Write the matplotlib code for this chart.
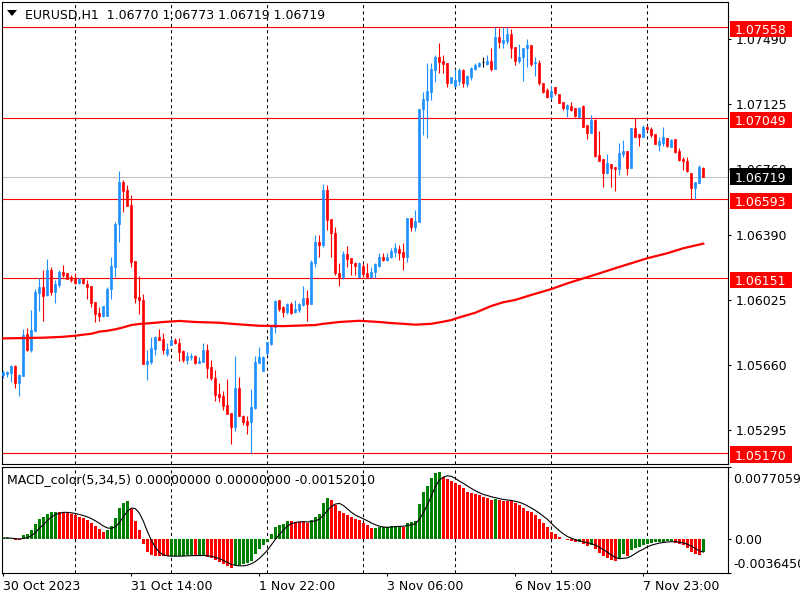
import numpy as np
import pandas as pd
import matplotlib
matplotlib.use('Agg')
import matplotlib.pyplot as plt
from matplotlib.patches import Rectangle, Polygon
from matplotlib.transforms import IdentityTransform

plt.rcParams['font.family'] = ['DejaVu Sans']
plt.rcParams['font.size'] = 9

# EURUSD H1, one bar per hour starting 30 Oct 2023 06:00
open_p = [
    1.05605, 1.05613, 1.05618, 1.05656, 1.05562, 1.05600, 1.05836, 1.05746, 1.05852, 1.06068,
    1.06101, 1.06055, 1.06195, 1.06073, 1.06111, 1.06185, 1.06176, 1.06154, 1.06148, 1.06120,
    1.06145, 1.06116, 1.06105, 1.06014, 1.05955, 1.05937, 1.05937, 1.06088, 1.06214, 1.06453,
    1.06689, 1.06644, 1.06560, 1.06247, 1.06045, 1.06027, 1.05667, 1.05680, 1.05751, 1.05818,
    1.05808, 1.05723, 1.05774, 1.05802, 1.05783, 1.05740, 1.05690, 1.05705, 1.05712, 1.05674,
    1.05680, 1.05744, 1.05649, 1.05587, 1.05499, 1.05488, 1.05437, 1.05392, 1.05314, 1.05532,
    1.05378, 1.05349, 1.05343, 1.05418, 1.05674, 1.05630, 1.05727, 1.05779, 1.05877, 1.06027,
    1.05989, 1.05961, 1.06004, 1.05961, 1.05970, 1.05998, 1.06039, 1.06004, 1.06236, 1.06352,
    1.06335, 1.06644, 1.06479, 1.06401, 1.06176, 1.06158, 1.06285, 1.06264, 1.06236, 1.06157,
    1.06218, 1.06180, 1.06158, 1.06182, 1.06219, 1.06270, 1.06251, 1.06266, 1.06294, 1.06315,
    1.06298, 1.06270, 1.06485, 1.06435, 1.06466, 1.07097, 1.07149, 1.07196, 1.07318, 1.07393,
    1.07370, 1.07359, 1.07247, 1.07229, 1.07258, 1.07318, 1.07239, 1.07280, 1.07322, 1.07340,
    1.07360, 1.07352, 1.07370, 1.07322, 1.07505, 1.07471, 1.07483, 1.07517, 1.07445, 1.07370,
    1.07389, 1.07440, 1.07460, 1.07355, 1.07355, 1.07243, 1.07206, 1.07168, 1.07221, 1.07183,
    1.07140, 1.07097, 1.07116, 1.07102, 1.07056, 1.07116, 1.07009, 1.06966, 1.07037, 1.06841,
    1.06816, 1.06738, 1.06790, 1.06772, 1.06760, 1.06846, 1.06865, 1.06766, 1.06994, 1.06957,
    1.06943, 1.07000, 1.06985, 1.06959, 1.06897, 1.06910, 1.06934, 1.06887, 1.06929, 1.06863,
    1.06816, 1.06807, 1.06738, 1.06654, 1.06682, 1.06770]
high_p = [
    1.05633, 1.05630, 1.05662, 1.05660, 1.05611, 1.05864, 1.05868, 1.05970, 1.06088, 1.06152,
    1.06195, 1.06255, 1.06214, 1.06139, 1.06195, 1.06223, 1.06180, 1.06167, 1.06180, 1.06150,
    1.06150, 1.06139, 1.06105, 1.06014, 1.05986, 1.05993, 1.06101, 1.06267, 1.06466, 1.06751,
    1.06700, 1.06672, 1.06616, 1.06247, 1.06161, 1.06060, 1.05746, 1.05818, 1.05824, 1.05864,
    1.05840, 1.05783, 1.05815, 1.05815, 1.05815, 1.05746, 1.05736, 1.05727, 1.05718, 1.05705,
    1.05783, 1.05781, 1.05690, 1.05633, 1.05559, 1.05517, 1.05583, 1.05392, 1.05712, 1.05594,
    1.05381, 1.05374, 1.05527, 1.05712, 1.05764, 1.05712, 1.05792, 1.05886, 1.06027, 1.06027,
    1.05993, 1.06008, 1.06015, 1.06027, 1.06010, 1.06105, 1.06083, 1.06251, 1.06392, 1.06392,
    1.06678, 1.06672, 1.06479, 1.06438, 1.06233, 1.06303, 1.06330, 1.06264, 1.06242, 1.06242,
    1.06233, 1.06233, 1.06214, 1.06233, 1.06289, 1.06289, 1.06289, 1.06317, 1.06345, 1.06335,
    1.06345, 1.06485, 1.06485, 1.06532, 1.07097, 1.07196, 1.07355, 1.07359, 1.07402, 1.07471,
    1.07402, 1.07359, 1.07280, 1.07322, 1.07327, 1.07322, 1.07290, 1.07336, 1.07355, 1.07365,
    1.07389, 1.07402, 1.07440, 1.07558, 1.07555, 1.07558, 1.07558, 1.07546, 1.07445, 1.07466,
    1.07440, 1.07494, 1.07460, 1.07393, 1.07374, 1.07243, 1.07215, 1.07228, 1.07224, 1.07183,
    1.07140, 1.07127, 1.07140, 1.07102, 1.07109, 1.07121, 1.07009, 1.07065, 1.07041, 1.06977,
    1.06816, 1.06846, 1.06790, 1.06772, 1.06906, 1.06925, 1.06865, 1.06994, 1.07047, 1.06957,
    1.07009, 1.07009, 1.07000, 1.06959, 1.06943, 1.06996, 1.06934, 1.06929, 1.06929, 1.06878,
    1.06831, 1.06831, 1.06741, 1.06691, 1.06785, 1.06773]
low_p = [
    1.05589, 1.05594, 1.05566, 1.05534, 1.05487, 1.05600, 1.05742, 1.05733, 1.05852, 1.05966,
    1.05910, 1.06049, 1.06055, 1.06008, 1.06101, 1.06154, 1.06143, 1.06129, 1.06116, 1.06116,
    1.06116, 1.06032, 1.05986, 1.05905, 1.05910, 1.05929, 1.05937, 1.06032, 1.06158, 1.06354,
    1.06522, 1.06554, 1.06214, 1.06011, 1.05948, 1.05667, 1.05577, 1.05667, 1.05718, 1.05802,
    1.05723, 1.05712, 1.05774, 1.05779, 1.05686, 1.05680, 1.05667, 1.05690, 1.05667, 1.05671,
    1.05680, 1.05587, 1.05577, 1.05461, 1.05456, 1.05409, 1.05385, 1.05218, 1.05293, 1.05374,
    1.05325, 1.05274, 1.05170, 1.05413, 1.05673, 1.05628, 1.05718, 1.05774, 1.05840, 1.05966,
    1.05933, 1.05948, 1.05948, 1.05953, 1.05959, 1.05993, 1.05910, 1.06004, 1.06210, 1.06270,
    1.06322, 1.06420, 1.06270, 1.06167, 1.06107, 1.06143, 1.06214, 1.06167, 1.06167, 1.06154,
    1.06154, 1.06154, 1.06148, 1.06148, 1.06214, 1.06247, 1.06247, 1.06261, 1.06270, 1.06251,
    1.06195, 1.06242, 1.06416, 1.06416, 1.06466, 1.06953, 1.06934, 1.07149, 1.07251, 1.07299,
    1.07299, 1.07223, 1.07243, 1.07223, 1.07234, 1.07223, 1.07223, 1.07262, 1.07318, 1.07336,
    1.07333, 1.07346, 1.07314, 1.07322, 1.07443, 1.07440, 1.07464, 1.07385, 1.07346, 1.07357,
    1.07258, 1.07336, 1.07339, 1.07284, 1.07234, 1.07191, 1.07162, 1.07153, 1.07178, 1.07131,
    1.07093, 1.07056, 1.07089, 1.07056, 1.07052, 1.06996, 1.06931, 1.06966, 1.06831, 1.06809,
    1.06659, 1.06734, 1.06659, 1.06640, 1.06729, 1.06831, 1.06729, 1.06766, 1.06943, 1.06891,
    1.06943, 1.06977, 1.06943, 1.06902, 1.06865, 1.06891, 1.06887, 1.06883, 1.06854, 1.06809,
    1.06756, 1.06747, 1.06594, 1.06594, 1.06682, 1.06719]
close_p = [
    1.05622, 1.05622, 1.05656, 1.05562, 1.05607, 1.05830, 1.05746, 1.05858, 1.06073, 1.06101,
    1.06049, 1.06195, 1.06073, 1.06116, 1.06185, 1.06167, 1.06146, 1.06139, 1.06120, 1.06145,
    1.06120, 1.06101, 1.06011, 1.05948, 1.05937, 1.05993, 1.06088, 1.06218, 1.06453, 1.06689,
    1.06640, 1.06556, 1.06242, 1.06039, 1.06027, 1.05667, 1.05684, 1.05755, 1.05818, 1.05802,
    1.05746, 1.05751, 1.05802, 1.05783, 1.05736, 1.05690, 1.05712, 1.05712, 1.05674, 1.05684,
    1.05744, 1.05645, 1.05587, 1.05493, 1.05484, 1.05431, 1.05385, 1.05314, 1.05532, 1.05374,
    1.05341, 1.05323, 1.05426, 1.05678, 1.05708, 1.05708, 1.05792, 1.05877, 1.06020, 1.05976,
    1.05961, 1.06004, 1.05955, 1.05976, 1.06004, 1.06039, 1.06004, 1.06242, 1.06352, 1.06335,
    1.06644, 1.06476, 1.06401, 1.06176, 1.06157, 1.06285, 1.06257, 1.06233, 1.06219, 1.06236,
    1.06172, 1.06158, 1.06185, 1.06229, 1.06270, 1.06251, 1.06270, 1.06303, 1.06317, 1.06292,
    1.06270, 1.06485, 1.06435, 1.06470, 1.07097, 1.07155, 1.07202, 1.07323, 1.07393, 1.07365,
    1.07352, 1.07247, 1.07277, 1.07262, 1.07318, 1.07243, 1.07284, 1.07327, 1.07346, 1.07359,
    1.07360, 1.07370, 1.07322, 1.07505, 1.07473, 1.07488, 1.07517, 1.07441, 1.07370, 1.07391,
    1.07440, 1.07458, 1.07354, 1.07361, 1.07243, 1.07196, 1.07168, 1.07202, 1.07187, 1.07134,
    1.07102, 1.07121, 1.07093, 1.07060, 1.07102, 1.07000, 1.06966, 1.07037, 1.06835, 1.06809,
    1.06738, 1.06794, 1.06766, 1.06760, 1.06850, 1.06865, 1.06766, 1.06994, 1.06943, 1.06943,
    1.07000, 1.06985, 1.06953, 1.06902, 1.06921, 1.06940, 1.06891, 1.06925, 1.06859, 1.06813,
    1.06809, 1.06752, 1.06654, 1.06691, 1.06772, 1.06719]

# red moving average, read at these bars
ma_bar = [0, 10, 15, 18, 20, 22, 24, 26, 28, 30, 32, 34, 37, 40, 44, 48, 54, 57, 60, 64,
          70, 78, 80, 84, 89, 94, 97, 100, 103, 107, 110, 112, 114, 116, 118, 120, 122, 125,
          128, 132, 137, 141, 145, 149, 153, 157, 161, 166, 170, 175]
ma_val = [1.05811, 1.05815, 1.05820, 1.05826, 1.05832, 1.05837, 1.05849, 1.05854, 1.05862,
          1.05873, 1.05886, 1.05892, 1.05897, 1.05903, 1.05909, 1.05903, 1.05899, 1.05893,
          1.05888, 1.05882, 1.05880, 1.05886, 1.05893, 1.05903, 1.05910, 1.05903, 1.05897,
          1.05893, 1.05888, 1.05893, 1.05905, 1.05914, 1.05929, 1.05942, 1.05955, 1.05974,
          1.05993, 1.06014, 1.06027, 1.06055, 1.06088, 1.06120, 1.06148, 1.06176, 1.06205,
          1.06233, 1.06261, 1.06289, 1.06317, 1.06343]

# MACD_color(5,34,5) main buffer
macd = [
    0.00007, 0.00011, -0.00004, -0.00014, -0.00018, 0.00039, 0.00054, 0.00089, 0.00161, 0.00211,
    0.00232, 0.00268, 0.00286, 0.00289, 0.00286, 0.00278, 0.00271, 0.00261, 0.00250, 0.00236,
    0.00221, 0.00200, 0.00168, 0.00132, 0.00104, 0.00075, 0.00096, 0.00139, 0.00218, 0.00325,
    0.00378, 0.00403, 0.00314, 0.00189, 0.00089, -0.00054, -0.00139, -0.00171, -0.00182, -0.00186,
    -0.00189, -0.00191, -0.00187, -0.00186, -0.00184, -0.00182, -0.00180, -0.00179, -0.00182, -0.00180,
    -0.00179, -0.00193, -0.00211, -0.00232, -0.00253, -0.00275, -0.00296, -0.00318, -0.00286, -0.00278,
    -0.00275, -0.00264, -0.00239, -0.00168, -0.00114, -0.00068, -0.00039, 0.00054, 0.00125, 0.00146,
    0.00161, 0.00189, 0.00186, 0.00182, 0.00179, 0.00175, 0.00171, 0.00200, 0.00232, 0.00261,
    0.00378, 0.00432, 0.00418, 0.00361, 0.00300, 0.00271, 0.00250, 0.00232, 0.00214, 0.00196,
    0.00171, 0.00146, 0.00114, 0.00118, 0.00121, 0.00125, 0.00129, 0.00132, 0.00136, 0.00139,
    0.00129, 0.00164, 0.00175, 0.00189, 0.00368, 0.00496, 0.00568, 0.00646, 0.00703, 0.00718,
    0.00660, 0.00639, 0.00618, 0.00593, 0.00575, 0.00539, 0.00496, 0.00486, 0.00475, 0.00464,
    0.00450, 0.00436, 0.00418, 0.00428, 0.00411, 0.00407, 0.00403, 0.00400, 0.00378, 0.00361,
    0.00325, 0.00296, 0.00282, 0.00253, 0.00211, 0.00164, 0.00129, 0.00068, 0.00046, 0.00021,
    -0.00004, -0.00014, -0.00025, -0.00039, -0.00032, -0.00054, -0.00075, -0.00068, -0.00111, -0.00150,
    -0.00186, -0.00203, -0.00225, -0.00239, -0.00218, -0.00168, -0.00182, -0.00125, -0.00104, -0.00086,
    -0.00068, -0.00054, -0.00043, -0.00039, -0.00036, -0.00032, -0.00029, -0.00027, -0.00043, -0.00057,
    -0.00071, -0.00096, -0.00139, -0.00164, -0.00175, -0.00146]

levels = [1.07558, 1.07049, 1.06593, 1.06151, 1.05170]
bid = 1.06719
price_ticks = [1.07490, 1.07125, 1.06760, 1.06390, 1.06025, 1.05660, 1.05295]
day_sep = [18, 42, 66, 90, 113, 137, 161]
time_pos = [0, 32, 64, 96, 128, 160]
time_lab = ['30 Oct 2023', '31 Oct 14:00', '1 Nov 22:00', '3 Nov 06:00', '6 Nov 15:00', '7 Nov 23:00']
macd_lo, macd_hi = -0.0036450, 0.0077059

o = np.array(open_p); h = np.array(high_p); l = np.array(low_p); c = np.array(close_p)
n = len(c)
idx = np.arange(n)

W, H = 800.0, 600.0
fig = plt.figure(figsize=(8, 6), dpi=100)


def px_axes(x0, y0, x1, y1):
    return fig.add_axes([x0 / W, 1 - y1 / H, (x1 - x0) / W, (y1 - y0) / H])


ax = px_axes(2.3, 1.7, 728.3, 464.0)
ax2 = px_axes(2.3, 466.7, 728.3, 572.7)
for a in (ax, ax2):
    a.set_xlim(-0.25, 181.25)
    for s in a.spines.values():
        s.set_linewidth(0.8)
        s.set_color('black')
    for d in day_sep:
        a.axvline(d, color='black', lw=0.75, ls=(0, (3, 3)), zorder=1)

ax.set_ylim(1.05106, 1.07701)

# levels and bid line
for lv in levels:
    ax.axhline(lv, color='#FF0000', lw=0.8, zorder=2)
ax.axhline(bid, color='#C0C0C0', lw=0.8, zorder=2)

# candles
col = np.where(c > o, '#1E90FF', np.where(c < o, '#FF0000', '#000000'))
ax.vlines(idx, l, h, colors=col, lw=0.8, zorder=3)
ax.bar(idx, np.abs(c - o), bottom=np.minimum(o, c), width=0.58, color=col,
       edgecolor=col, linewidth=0.5, zorder=4)

ax.plot(ma_bar, ma_val, color='#FF0000', lw=1.6, zorder=5)

ax.set_xticks([])
ax.yaxis.tick_right()
ax.set_yticks(price_ticks)
ax.set_yticklabels(['%.5f' % v for v in price_ticks])
ax.tick_params(axis='y', direction='out', length=2.5, width=0.8, pad=3, labelsize=9)

# MACD window
m = np.array(macd)
prev = np.concatenate([[m[0] - 1], m[:-1]])
mcol = np.where(m >= prev, '#008000', '#FF0000')
ax2.bar(idx, m, width=0.75, color=mcol, linewidth=0, zorder=3)
signal = pd.Series(m).rolling(5, min_periods=1).mean()
ax2.plot(idx, signal, color='black', lw=0.8, zorder=4)
ax2.set_ylim(macd_lo, macd_hi)
ax2.yaxis.tick_right()
ax2.set_yticks([macd_lo, 0, macd_hi])
ax2.set_yticklabels(['', '0.00', ''])
ax2.tick_params(axis='y', direction='out', length=2.5, width=0.8, pad=2, labelsize=9)
ax2.set_xticks(time_pos)
ax2.set_xticklabels(time_lab)
plt.setp(ax2.get_xticklabels(), ha='left')
ax2.tick_params(axis='x', direction='out', length=2.5, width=0.8, pad=2.5, labelsize=9)

ident = IdentityTransform()


def tag(a, p, face, dy):
    xr, yp = a.transData.transform((a.get_xlim()[1], p))
    yp -= dy
    fig.add_artist(Rectangle((xr + 1.7, yp - 8.3), 62, 16.6, transform=ident,
                             facecolor=face, edgecolor='none', zorder=20))
    fig.text(xr + 6.5, yp, '%.5f' % p, transform=ident, color='white',
             fontsize=9, ha='left', va='center_baseline', zorder=21)


for lv in levels:
    tag(ax, lv, '#FF0000', 2)
tag(ax, bid, '#000000', 0)

# scale labels of the MACD window
xr = ax2.transAxes.transform((1, 0))[0]
ytop = ax2.transAxes.transform((0, 1))[1]
ybot = ax2.transAxes.transform((0, 0))[1]
fig.text(xr + 4.7, ytop - 11, '%.7f' % macd_hi, transform=ident, fontsize=9,
         ha='left', va='center_baseline')
fig.text(xr + 4.7, ybot + 9.4, '%.7f' % macd_lo, transform=ident, fontsize=9,
         ha='left', va='center_baseline')

# window titles
fig.add_artist(Polygon([(7, H - 10), (17, H - 10), (12, H - 16)], closed=True,
                       transform=ident, facecolor='black', edgecolor='none'))
fig.text(25, H - 14, 'EURUSD,H1  %.5f %.5f %.5f %.5f' % (o[-1], h[-1], l[-1], c[-1]),
         transform=ident, fontsize=9, ha='left', va='center_baseline')
fig.text(7.3, H - 478.3, 'MACD_color(5,34,5) 0.00000000 0.00000000 %.8f' % -0.0015201,
         transform=ident, fontsize=9, ha='left', va='center_baseline')

fig.savefig('out.png', dpi=100)
